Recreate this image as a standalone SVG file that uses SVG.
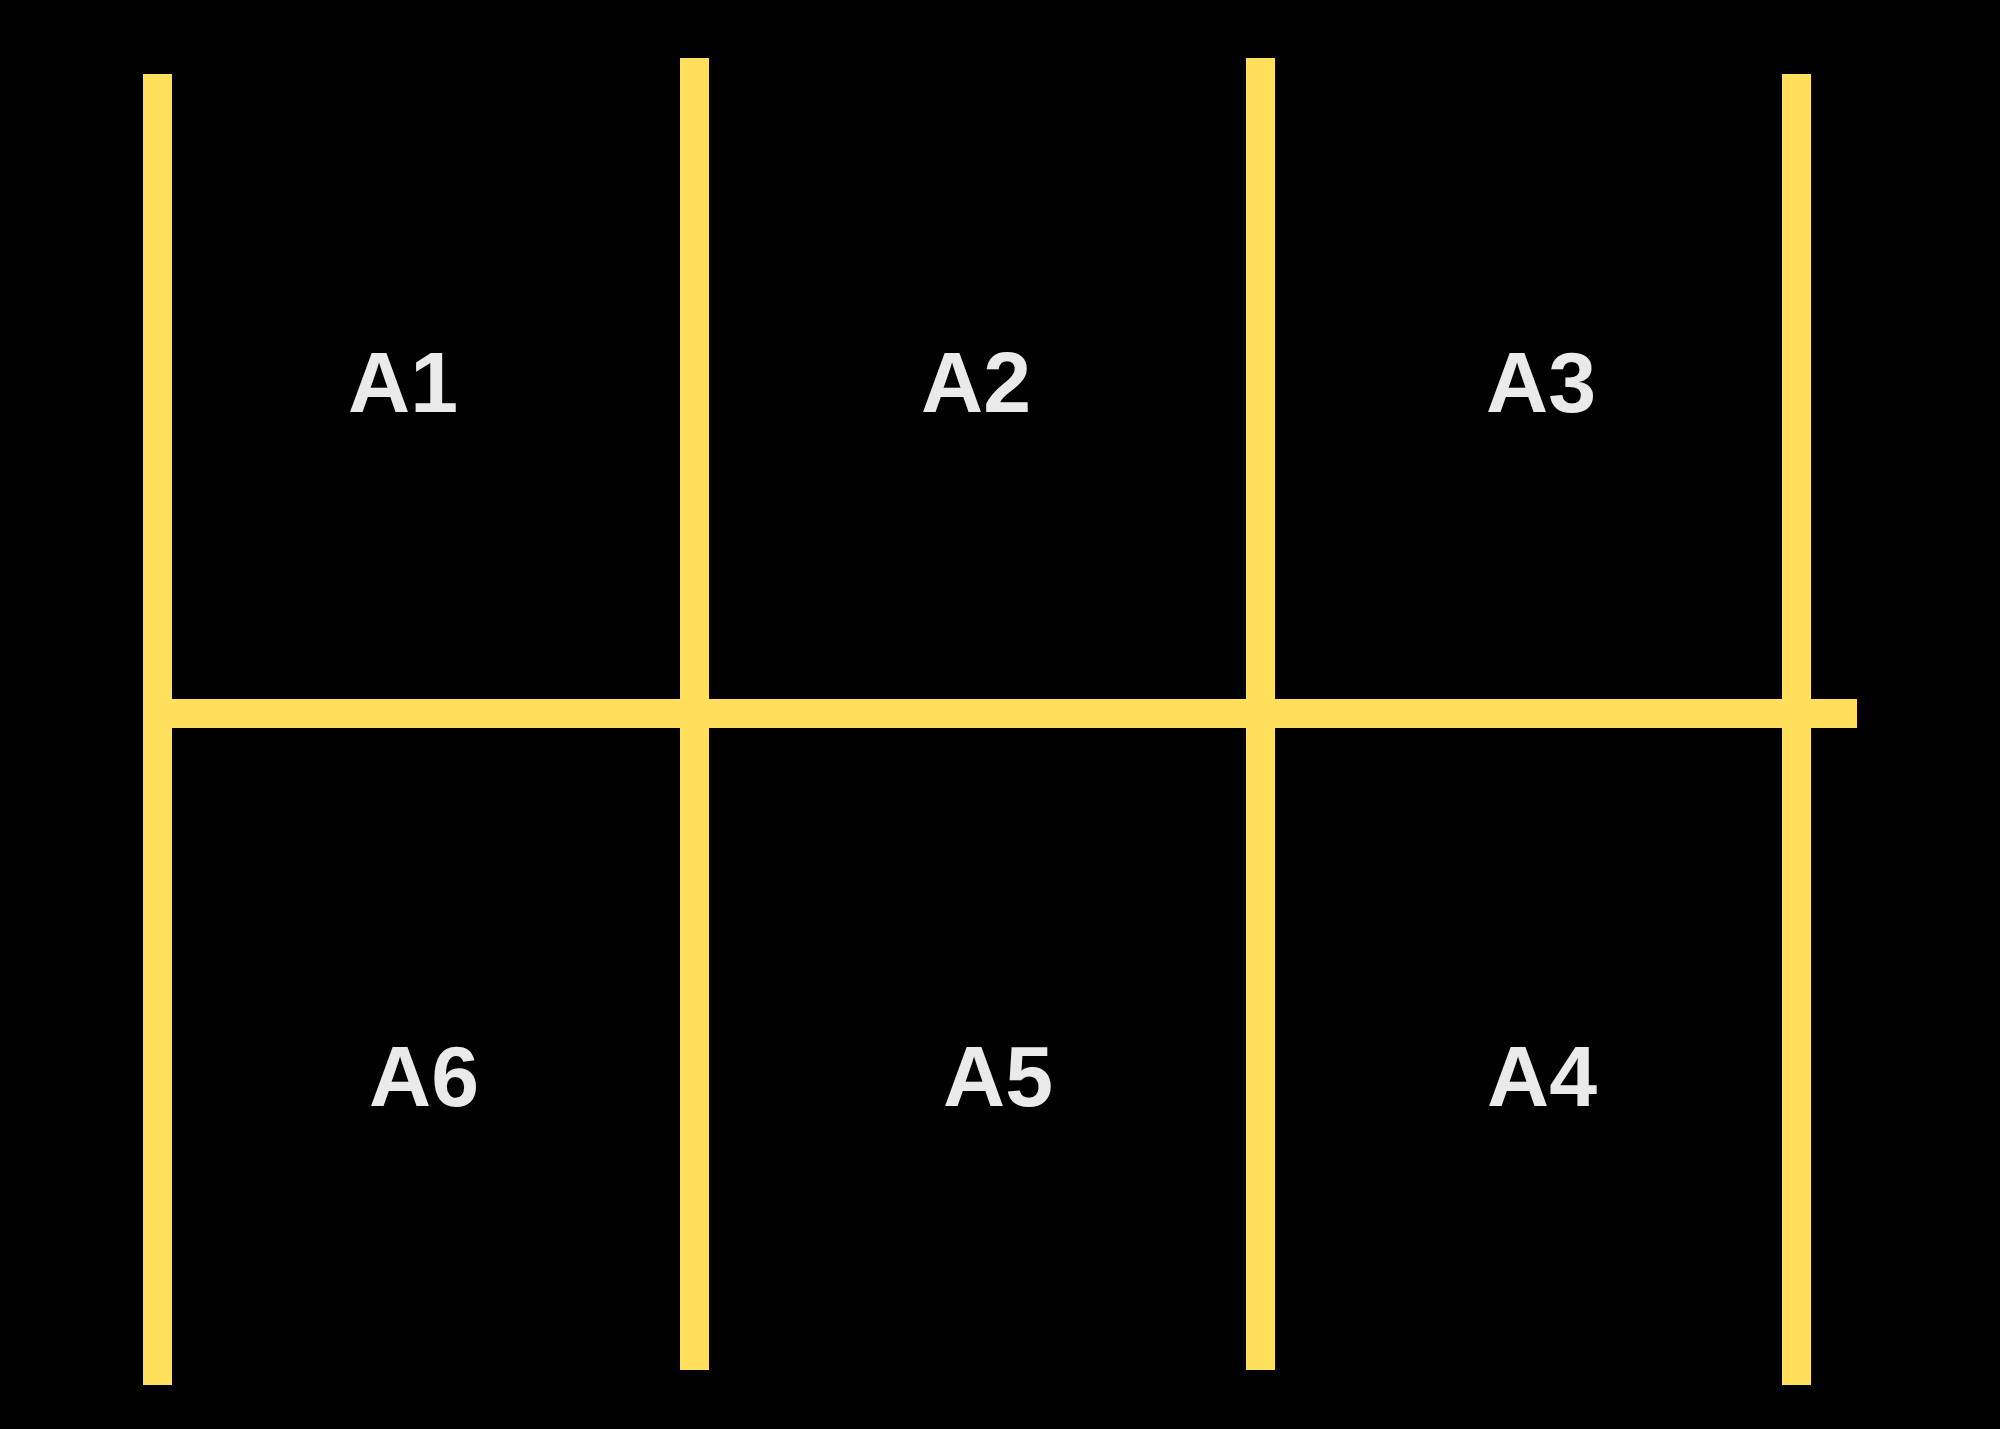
<svg xmlns="http://www.w3.org/2000/svg" width="2000" height="1429" viewBox="0 0 2000 1429">
  <style>
    .bar { fill: #FFDF5C; }
    .lbl { font-family: "Liberation Sans", Arial, sans-serif; font-weight: bold; font-size: 86px; fill: #EAEAEA; text-anchor: middle; }
  </style>
  <rect x="0" y="0" width="2000" height="1429" fill="#000000"/>
  <g id="connectors">
    <rect class="bar" x="143" y="74" width="29" height="1311"/>
    <rect class="bar" x="680" y="58" width="29" height="1312"/>
    <rect class="bar" x="1246" y="58" width="29" height="1312"/>
    <rect class="bar" x="1782" y="74" width="29" height="1311"/>
    <rect class="bar" x="143" y="699" width="1714" height="29"/>
  </g>
  <g id="A1"><text class="lbl" x="403" y="412">A1</text></g>
  <g id="A2"><text class="lbl" x="976" y="412">A2</text></g>
  <g id="A3"><text class="lbl" x="1541" y="412">A3</text></g>
  <g id="A6"><text class="lbl" x="424" y="1106">A6</text></g>
  <g id="A5"><text class="lbl" x="998" y="1106">A5</text></g>
  <g id="A4"><text class="lbl" x="1542" y="1106">A4</text></g>
</svg>
